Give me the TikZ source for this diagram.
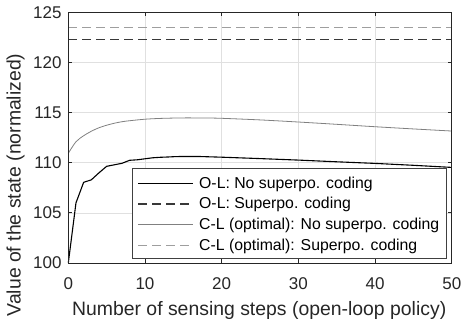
\documentclass[tikz,border=0pt]{standalone}
\usepackage{fontspec}
\setmainfont{Liberation Sans}
\begin{document}
\begin{tikzpicture}[x=1pt,y=1pt,
  gridline/.style={draw=black!12, line width=0.8pt},
  axisline/.style={draw=black!85, line width=0.9pt},
  tickfont/.style={font=\fontsize{17}{17}\selectfont, inner sep=0pt, text=black!85},
  labelfont/.style={font=\fontsize{19.4}{19.4}\selectfont, inner sep=0pt, text=black!85},
  legfont/.style={font=\fontsize{15.8}{16}\selectfont, inner sep=0pt, anchor=base west, text=black},
  olsolid/.style={draw=black, line width=1.1pt, line join=round},
  oldash/.style={draw=black!78, line width=1.1pt, dash pattern=on 9pt off 5pt},
  clsolid/.style={draw=black!50, line width=0.8pt, line join=round},
  cldash/.style={draw=black!38, line width=1.0pt, dash pattern=on 9pt off 5pt},
  legbox/.style={draw=black!75, fill=white, line width=0.9pt}]
\useasboundingbox (0,0) rectangle (461,322);
\begin{scope}[shift={(68.3pt,59pt)}, x=7.67pt, y=10.02pt]
  % grid
  \foreach \i in {10,20,30,40} \draw[gridline] (\i,0) -- (\i,25);
  \foreach \v in {5,10,15,20} \draw[gridline] (0,\v) -- (50,\v);
  % curves
  \coordinate (d1a) at (0,22.28); \coordinate (d1b) at (50,22.28);
  \coordinate (d2a) at (0,23.55); \coordinate (d2b) at (50,23.55);
  \draw[cldash] (d2a) -- (d2b);
  \draw[oldash] (d1a) -- (d1b);
  \draw[clsolid] plot[smooth, tension=0.5] coordinates {(0,10.95) (1,12.1) (2,12.7) (3,13.15) (4,13.5) (5,13.75) (6,13.95) (7,14.1) (8,14.2) (10,14.35) (12,14.43) (15,14.48) (18,14.47) (20,14.44) (25,14.28) (30,14.07) (35,13.84) (40,13.6) (45,13.38) (50,13.17)};
  \draw[olsolid] plot coordinates {(0,0) (1,6.0) (2,8.05) (3,8.3) (4,9.0) (5,9.65) (6,9.8) (7,9.95) (8,10.25) (9,10.3) (10,10.4) (11,10.5) (12,10.55) (13,10.58) (14,10.62) (15,10.63) (17,10.63) (20,10.56) (25,10.42) (30,10.27) (35,10.1) (40,9.94) (45,9.75) (50,9.54)};
  % legend
  \draw[legbox] (8.4,0.47) rectangle (49.25,9.45);
  \coordinate (l1a) at (9.09,7.95); \coordinate (l1b) at (16.25,7.95);
  \coordinate (l2a) at (9.09,5.89); \coordinate (l2b) at (16.25,5.89);
  \coordinate (l3a) at (9.09,3.82); \coordinate (l3b) at (16.25,3.82);
  \coordinate (l4a) at (9.09,1.77); \coordinate (l4b) at (16.25,1.77);
  \draw[olsolid] (l1a) -- (l1b);
  \draw[oldash] (l2a) -- (l2b);
  \draw[clsolid] (l3a) -- (l3b);
  \draw[cldash] (l4a) -- (l4b);
  \node[legfont] (t1) at (17.04,7.45) {O-L: No superpo. coding};
  \node[legfont] (t2) at (17.04,5.39) {O-L: Superpo. coding};
  \node[legfont] (t3) at (17.04,3.32) {C-L (optimal): No superpo. coding};
  \node[legfont] (t4) at (17.04,1.27) {C-L (optimal): Superpo. coding};
  % axes box and ticks
  \draw[axisline] (0,0) rectangle (50,25);
  \foreach \i in {0,10,20,30,40,50} {
    \draw[axisline] (\i,0) -- ++(0,4pt);
    \draw[axisline] (\i,25) -- ++(0,-4pt);
    \node[tickfont, anchor=base] (xt\i) at ([yshift=-26.3pt]\i,0) {\i};
  }
  \foreach \v/\lab in {0/100,5/105,10/110,15/115,20/120,25/125} {
    \draw[axisline] (0,\v) -- ++(4pt,0);
    \draw[axisline] (50,\v) -- ++(-4pt,0);
    \node[tickfont, anchor=east] (yt\lab) at ([xshift=-6.6pt]0,\v) {\lab};
  }
\end{scope}
\node[labelfont, anchor=base] (xlab) at (259.2,7) {Number of sensing steps (open-loop policy)};
\node[labelfont, anchor=base, rotate=90] (ylab) at (20.7,137) {Value of the state (normalized)};
\end{tikzpicture}
\end{document}
